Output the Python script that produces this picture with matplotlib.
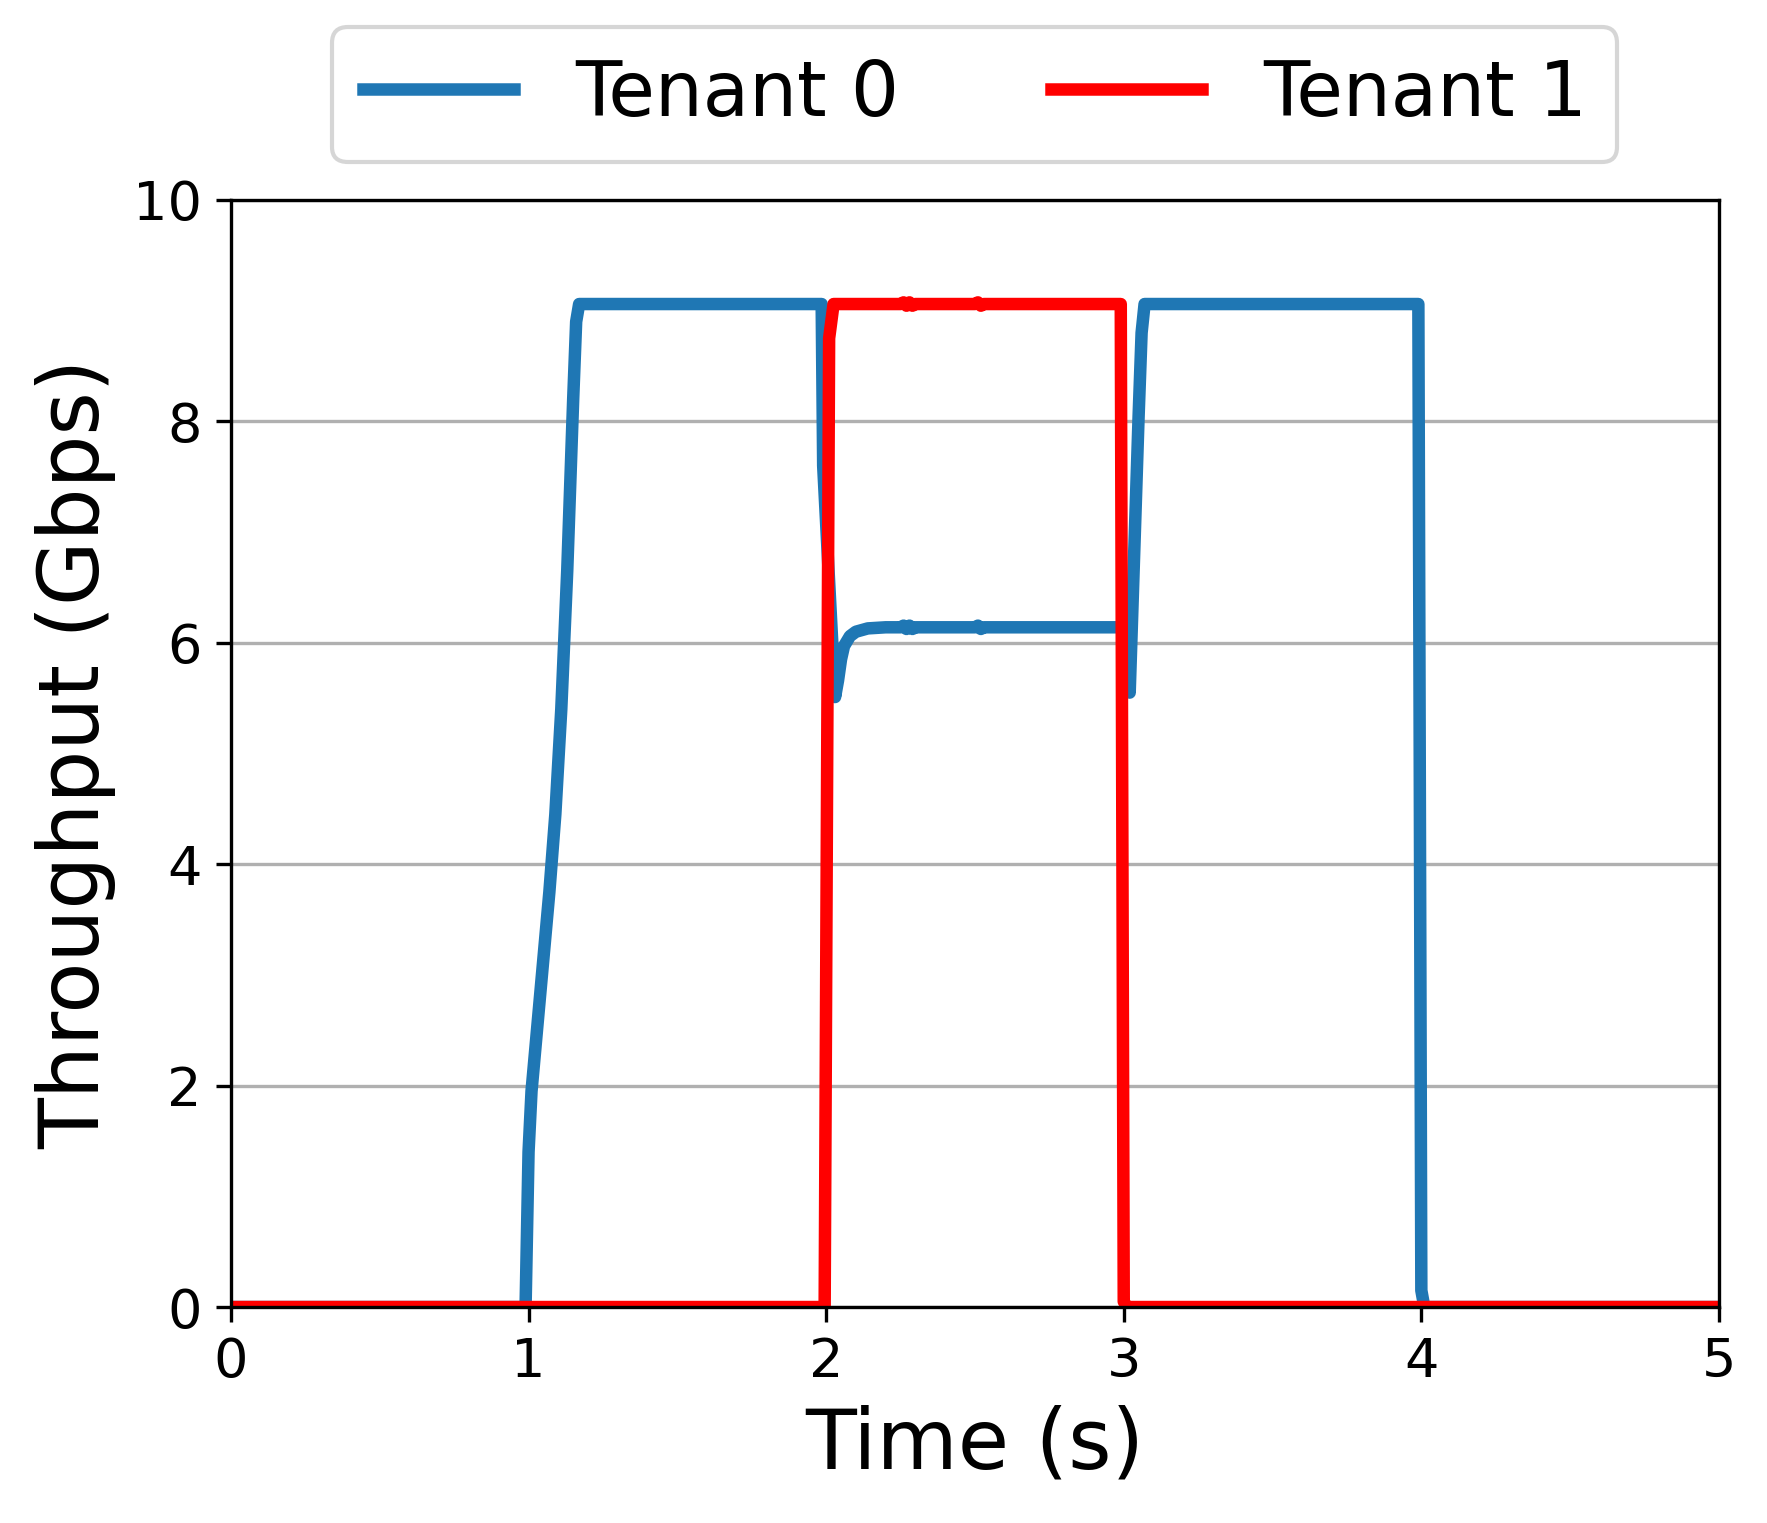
import matplotlib
matplotlib.use("Agg")
import matplotlib.pyplot as plt

# Tenant 0 throughput (Gbps) over time (s)
tenant0_time = [0.0, 0.99, 1.00, 1.01, 1.03, 1.05, 1.07, 1.09, 1.11, 1.13,
                1.15, 1.16, 1.17, 1.985, 1.99, 2.03, 2.04, 2.05, 2.06, 2.08,
                2.10, 2.14, 2.20,
                2.25, 2.26, 2.27, 2.28, 2.29, 2.30, 2.50, 2.51, 2.52, 2.53,
                3.00, 3.02, 3.05, 3.06, 3.07, 3.99, 4.00, 4.01, 5.0]
tenant0_tput = [0.0, 0.0, 1.40, 1.95, 2.55, 3.15, 3.75, 4.45, 5.40, 6.65,
                8.20, 8.90, 9.06, 9.06, 7.60, 5.51, 5.66, 5.85, 5.97, 6.06,
                6.10, 6.13, 6.14,
                6.14, 6.155, 6.125, 6.155, 6.125, 6.14, 6.14, 6.155, 6.125, 6.14,
                6.14, 5.55, 8.05, 8.80, 9.06, 9.06, 0.15, 0.0, 0.0]

# Tenant 1 throughput (Gbps) over time (s)
tenant1_time = [0.0, 1.995, 2.01, 2.025, 2.25, 2.26, 2.27, 2.28, 2.29,
                2.30, 2.50, 2.51, 2.52, 2.53, 2.99, 3.00, 3.01, 5.0]
tenant1_tput = [0.0, 0.0, 8.75, 9.06, 9.06, 9.075, 9.045, 9.075, 9.045,
                9.06, 9.06, 9.075, 9.045, 9.06, 9.06, 0.05, 0.0, 0.0]

x_ticks = [0, 1, 2, 3, 4, 5]
y_ticks = [0, 2, 4, 6, 8, 10]

fig = plt.figure(figsize=(1767 / 300, 1523 / 300), dpi=300)
ax = fig.add_axes([0.1307, 0.1418, 0.8421, 0.7269])

ax.plot(tenant0_time, tenant0_tput, color="#1f77b4", lw=3.0, label="Tenant 0")
ax.plot(tenant1_time, tenant1_tput, color="red", lw=3.0, label="Tenant 1")

ax.set_xlim(0, 5)
ax.set_ylim(0, 10)
ax.set_xticks(x_ticks)
ax.set_yticks(y_ticks)
ax.yaxis.grid(True, color="#b0b0b0", lw=0.8)
ax.set_axisbelow(True)
ax.tick_params(labelsize=13)

ax.set_xlabel("Time (s)", fontsize=20)
ax.set_ylabel("Throughput (Gbps)", fontsize=20)

ax.legend(loc="lower center", bbox_to_anchor=(0.5, 1.0), ncol=2,
          fontsize=18.2)

fig.savefig("out.png", dpi=300)
